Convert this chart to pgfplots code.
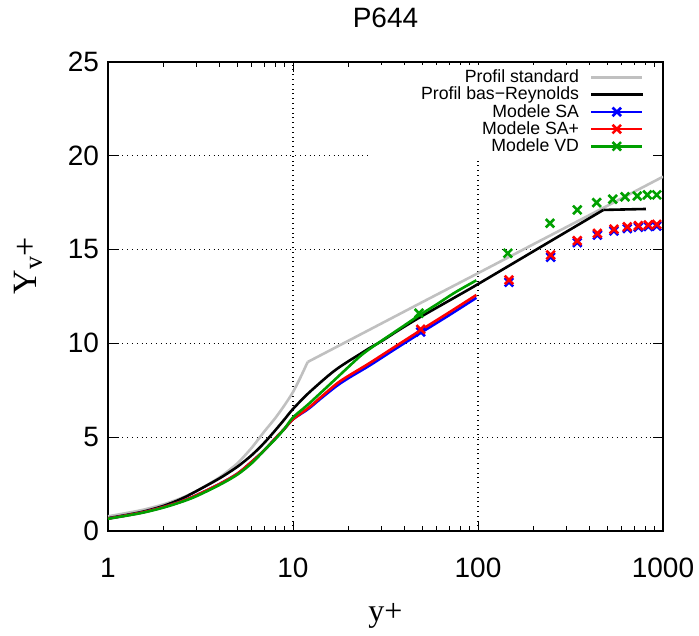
\documentclass[border=0pt]{standalone}
\usepackage{fontspec}
\setmainfont{Liberation Sans}
\newfontfamily\seriffont{Liberation Serif}
\usepackage{pgfplots}
\pgfplotsset{compat=1.18}
\definecolor{gpgreen}{RGB}{0,160,0}
\definecolor{gpgray}{RGB}{192,192,192}
\newcommand\legtxt[1]{\makebox[101pt][r]{\rule[-2.4pt]{0pt}{9.2pt}#1}}
\begin{document}
\begin{tikzpicture}
\useasboundingbox (-54pt,-52pt) rectangle (295.5pt,265.5pt);
\begin{axis}[
  at={(0,0)}, anchor=south west, scale only axis,
  width=277.5pt, height=234.7pt,
  xmode=log, xmin=1, xmax=1000, ymin=0, ymax=25,
  xtick={1,10,100,1000}, xticklabels={1,10,100,1000},
  ytick={0,5,10,15,20,25},
  /pgf/number format/assume math mode=true,
  tick label style={font=\fontsize{14}{16}\selectfont},
  xticklabel style={yshift=-10pt},
  yticklabel style={xshift=-1pt},
  tick align=inside,
  major tick length=5pt, minor tick length=2.5pt,
  every tick/.style={black, line width=0.5pt},
  axis line style={line width=1pt},
  xmajorgrids, ymajorgrids,
  grid style={dotted, black, line width=0.6pt},
  title={P644},
  title style={font=\fontsize{14}{16}\selectfont, at={(axis description cs:0.5,1.068)}, anchor=center},
  xlabel={y+}, ylabel={Y\raisebox{-0.35ex}{\fontsize{13}{14}\selectfont v}+},
  xlabel style={font=\seriffont\fontsize{16}{18}\selectfont, at={(axis description cs:0.5,-0.181)}, anchor=center},
  ylabel style={font=\seriffont\fontsize{17}{19}\selectfont, at={(axis description cs:-0.1441,0.565)}, anchor=center},
  legend plot pos=right,
  legend style={draw=none, fill=white, at={(axis description cs:1,1)}, anchor=north east,
    xshift=-5.5pt, yshift=-1.6pt, inner xsep=4pt, inner ysep=2pt,
    font=\fontsize{8.85}{10}\selectfont, nodes={inner sep=0pt}, column sep=5.5pt, row sep=0.3pt},
  legend image code/.code={\draw[mark repeat=2,mark phase=2,#1] plot coordinates {(0pt,0pt)(12.75pt,0pt)(25.5pt,0pt)};},
]
\addplot[gpgray, line width=1.3pt, smooth, tension=0.4] coordinates {
(1,0.78) (1.5,1.1) (2,1.42) (2.5,1.76) (3,2.12) (4,2.85) (5,3.6) (6,4.45) (7,5.3) (8,6.0) (9,6.7) (10,7.4) (11,8.2) (12,9.0)};
\addlegendentry{\legtxt{Profil standard}}
\addplot[gpgray, line width=1.3pt, forget plot] coordinates {
(12,9.0) (20,10.14) (50,12.19) (100,13.73) (200,15.28) (500,17.32) (1000,18.87)};
\addplot[black, line width=1.3pt, smooth, tension=0.5] coordinates {
(1,0.68) (1.5,1.0) (2,1.34) (2.5,1.72) (3,2.12) (4,2.8) (5,3.42) (6,4.05) (7,4.7) (8,5.35) (9,5.95) (10,6.5) (12,7.3) (15,8.15) (17.2,8.62) (20,9.05) (23,9.42) (26,9.75) (30,10.1) (37.6,10.72) (47.5,11.33) (62,11.98) (80,12.6) (100,13.15) (216,15.1) (476,17.1)};
\addlegendentry{\legtxt{Profil bas−Reynolds}}
\addplot[black, line width=1.3pt, forget plot] coordinates {(476,17.1) (809,17.15)};
\addplot[blue, line width=1.3pt, smooth, tension=0.5, forget plot] coordinates {
(1,0.66) (1.5,0.97) (2,1.28) (2.5,1.58) (3,1.9) (4,2.5) (5,3.05) (6,3.7) (7,4.3) (8,4.92) (9,5.45) (10,5.95) (12.1,6.5) (14,7.02) (17.2,7.72) (20,8.15) (26,8.82) (35,9.64) (49.5,10.58) (70,11.5) (98,12.42)};
\addplot[red, line width=1.3pt, smooth, tension=0.5, forget plot] coordinates {
(1,0.66) (1.5,0.97) (2,1.28) (2.5,1.58) (3,1.9) (4,2.5) (5,3.05) (6,3.7) (7,4.3) (8,4.92) (9,5.45) (10,5.95) (12.1,6.55) (14,7.09) (17.2,7.84) (20,8.27) (26,8.95) (35,9.77) (49.5,10.72) (70,11.65) (98,12.57)};
\addplot[gpgreen, line width=1.3pt, smooth, tension=0.5, forget plot] coordinates {
(1,0.65) (1.5,0.95) (2,1.25) (2.5,1.55) (3,1.85) (4,2.45) (5,3.0) (6,3.62) (7,4.3) (8,4.88) (9,5.45) (10,6.05) (12,6.72) (15,7.6) (18.7,8.48) (23,9.3) (26,9.7) (30,10.12) (40,10.95) (47.5,11.45) (60,12.08) (75,12.7) (98,13.35)};
\addplot[blue, only marks, mark=x, mark size=3pt, mark options={line width=1.3pt}, forget plot] coordinates {
(49,10.6) (147,13.25) (247,14.58) (344,15.36) (442,15.76) (543,15.98) (641,16.11) (736,16.18) (833,16.22) (925,16.24)};
\addplot[red, only marks, mark=x, mark size=3pt, mark options={line width=1.3pt}, forget plot] coordinates {
(49,10.74) (147,13.37) (247,14.7) (344,15.46) (442,15.85) (543,16.07) (641,16.2) (736,16.26) (833,16.3) (925,16.33)};
\addplot[gpgreen, only marks, mark=x, mark size=3pt, mark options={line width=1.3pt}, forget plot] coordinates {
(48,11.6) (145,14.79) (245,16.39) (344,17.1) (438,17.49) (535,17.67) (623,17.8) (726,17.84) (823,17.9) (925,17.9)};
\addlegendimage{blue, line width=1.3pt, mark=x, mark size=3pt, mark options={solid}}
\addlegendentry{\legtxt{Modele SA}}
\addlegendimage{red, line width=1.3pt, mark=x, mark size=3pt, mark options={solid}}
\addlegendentry{\legtxt{Modele SA+}}
\addlegendimage{gpgreen, line width=1.3pt, mark=x, mark size=3pt, mark options={solid}}
\addlegendentry{\legtxt{Modele VD}}
\end{axis}
\end{tikzpicture}
\end{document}
